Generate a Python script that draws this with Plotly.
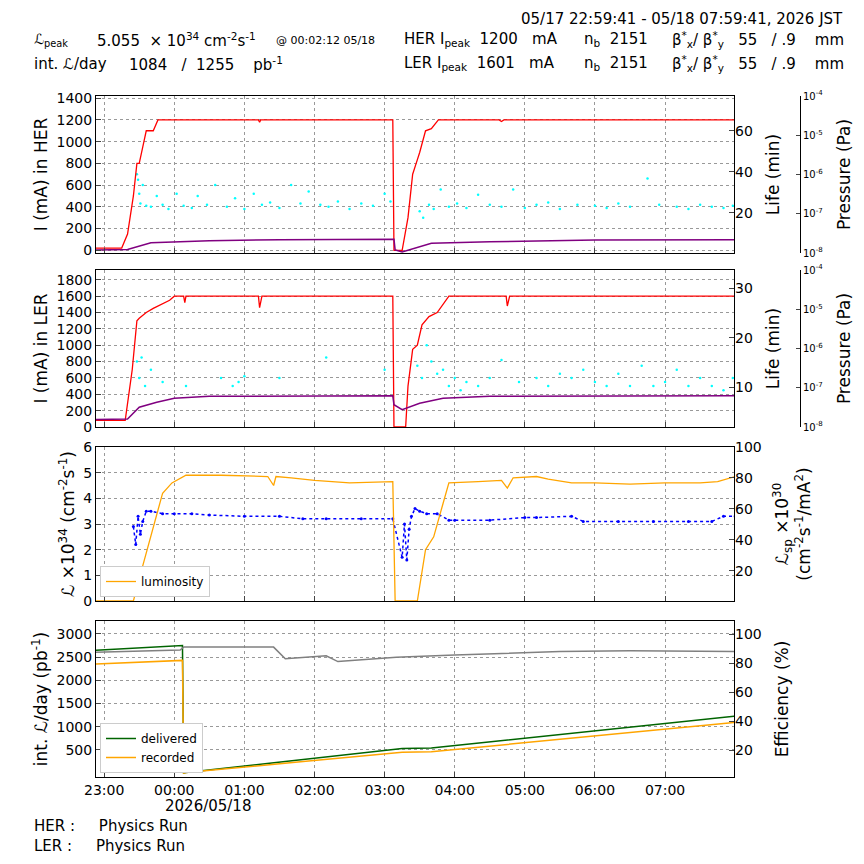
import plotly.graph_objects as go
from datetime import datetime, timedelta

# ---- data (times as HH:MM, 22-23h belong to 05/17) ----
def T(s):
    h, m = [int(v) for v in s.split(":")]
    d = datetime(2026, 5, 17) if h >= 22 else datetime(2026, 5, 18)
    return d + timedelta(hours=h, minutes=m)

her_t = ["22:53", "23:15", "23:20", "23:25", "23:28", "23:30", "23:34", "23:36", "23:42", "23:46", "01:12", "01:13",
         "01:14", "03:07", "03:08", "03:15", "03:20", "03:24", "03:27", "03:30", "03:35", "03:40", "03:46", "04:38",
         "04:40", "04:42", "08:00"]
her_i = [20, 20, 150, 500, 800, 800, 1000, 1100, 1100, 1200, 1200, 1180, 1200, 1200, 0, 0, 300, 700, 800, 900, 1100,
         1120, 1200, 1200, 1185, 1200, 1200]
her_life_t = ["22:53", "23:20", "23:40", "00:30", "01:30", "03:08", "03:09", "03:15", "03:40", "04:30", "06:00", "08:00"]
her_life = [2.0, 2.2, 5.5, 6.5, 7.0, 7.2, 2.0, 1.0, 5.2, 6.0, 6.8, 7.0]
her_cyan_t = ["23:28", "23:29", "23:30", "23:31", "23:33", "23:36", "23:40", "23:45", "23:50", "23:55", "00:02",
              "00:08", "00:15", "00:20", "00:28", "00:35", "00:45", "00:52", "01:00", "01:08", "01:15", "01:22",
              "01:30", "01:40", "01:48", "01:55", "02:05", "02:12", "02:20", "02:30", "02:40", "02:50", "03:00",
              "03:05", "03:30", "03:33", "03:38", "03:42", "03:48", "03:55", "04:02", "04:10", "04:20", "04:30",
              "04:40", "04:50", "05:00", "05:10", "05:20", "05:30", "05:45", "06:00", "06:10", "06:20", "06:30",
              "06:45", "06:55", "07:10", "07:20", "07:30", "07:40", "07:50", "07:58"]
her_cyan = [700, 650, 520, 430, 600, 410, 400, 500, 420, 380, 520, 410, 390, 500, 420, 600, 400, 480, 380, 520,
            420, 440, 390, 600, 430, 540, 420, 400, 450, 380, 430, 410, 520, 450, 360, 300, 420, 380, 560, 400,
            430, 390, 510, 420, 400, 560, 390, 420, 440, 380, 420, 410, 390, 430, 400, 660, 420, 400, 380, 420,
            400, 390, 410]

ler_t = ["22:53", "23:18", "23:24", "23:28", "23:30", "23:36", "23:42", "23:56", "00:00", "00:08", "00:09", "00:10",
         "01:12", "01:13", "01:15", "03:07", "03:08", "03:18", "03:20", "03:24", "03:28", "03:32", "03:38", "03:45",
         "03:55", "04:44", "04:45", "04:47", "08:00"]
ler_i = [80, 80, 700, 1300, 1330, 1400, 1450, 1550, 1600, 1600, 1520, 1600, 1600, 1460, 1600, 1600, 0, 0, 500, 950,
         1000, 1250, 1350, 1400, 1600, 1600, 1480, 1600, 1600]
ler_life_t = ["22:53", "23:20", "23:30", "23:45", "00:00", "00:30", "03:07", "03:08", "03:15", "03:30", "03:50",
              "04:30", "08:00"]
ler_life = [3.5, 3.6, 6.0, 7.0, 7.8, 8.2, 8.3, 6.5, 5.5, 6.8, 7.8, 8.2, 8.3]
ler_cyan_t = ["23:28", "23:30", "23:32", "23:35", "23:40", "23:50", "00:10", "00:40", "00:50", "00:55", "01:00",
              "01:30", "02:10", "03:00", "03:28", "03:32", "03:36", "03:40", "03:45", "03:50", "03:55", "04:00",
              "04:05", "04:10", "04:20", "04:30", "04:40", "04:55", "05:10", "05:20", "05:30", "05:40", "05:50",
              "06:00", "06:10", "06:20", "06:30", "06:40", "06:50", "07:00", "07:10", "07:20", "07:30", "07:40",
              "07:50", "07:58"]
ler_cyan = [800, 600, 850, 500, 700, 550, 500, 600, 500, 550, 620, 600, 850, 700, 750, 600, 1000, 800, 650, 700,
            500, 600, 450, 550, 500, 600, 820, 550, 600, 500, 650, 600, 700, 550, 500, 650, 500, 750, 500, 550,
            700, 500, 600, 500, 450, 600]

lum_t = ["22:53", "23:25", "23:32", "23:40", "23:50", "23:58", "00:10", "00:40", "01:20", "01:25", "01:27",
         "01:40", "02:00", "02:30", "03:07", "03:09", "03:28", "03:35", "03:42", "03:50", "03:55", "04:20", "04:40",
         "04:45", "04:50", "05:10", "05:20", "05:40", "06:00", "06:30", "07:00", "07:30", "07:45", "08:00"]
lum = [0, 0, 1.2, 2.5, 4.2, 4.6, 4.9, 4.9, 4.85, 4.5, 4.85, 4.8, 4.7, 4.6, 4.65, 0, 0, 2.0, 2.5, 3.8, 4.6, 4.65,
       4.7, 4.4, 4.8, 4.85, 4.75, 4.6, 4.6, 4.55, 4.6, 4.6, 4.65, 4.85]
lsp_t = ["23:25", "23:27", "23:29", "23:31", "23:33", "23:36", "23:40", "23:50", "00:00", "00:15", "00:30", "01:00",
         "01:30", "01:50", "02:10", "02:40", "03:07", "03:15", "03:17", "03:19", "03:21", "03:23", "03:26", "03:30",
         "03:36", "03:45", "03:55", "04:00", "04:30", "05:00", "05:10", "05:40", "05:50", "06:20", "06:50", "07:20",
         "07:40", "07:50", "08:00"]
lsp = [2.9, 2.2, 3.3, 2.6, 3.1, 3.5, 3.5, 3.4, 3.4, 3.4, 3.35, 3.3, 3.3, 3.2, 3.2, 3.2, 3.2, 1.7, 3.0, 1.6, 2.8,
       3.3, 3.6, 3.5, 3.4, 3.4, 3.15, 3.15, 3.15, 3.25, 3.25, 3.3, 3.1, 3.1, 3.1, 3.1, 3.1, 3.3, 3.3]

int_t = ["22:53", "00:07", "00:08", "00:10", "03:15", "03:40", "08:00"]
delivered = [2650, 2750, 0, 10, 530, 540, 1230]
recorded = [2350, 2430, 0, 10, 450, 460, 1090]
eff_t = ["22:53", "00:05", "00:08", "01:25", "01:35", "02:10", "02:20", "03:10", "04:00", "05:30", "06:30", "06:40",
         "07:00", "08:00"]
eff = [87.5, 89, 91, 91, 83, 85, 81, 84, 85.5, 88, 88.5, 88.5, 88, 88]

tx = lambda lst: [T(s) for s in lst]
xr = [T("22:53"), T("07:59")]

# page has an 8px body margin, so the figure is 848 wide and placed at (8, 8)
W = 848
PX = lambda x: (x - 8) / W
PY = lambda y: 1 - (y - 8) / W

fig = go.Figure()
fig.add_trace(go.Scatter(x=tx(her_cyan_t), y=her_cyan, mode="markers", marker=dict(color="cyan", size=2.5),
                         xaxis="x", yaxis="y", showlegend=False))
fig.add_trace(go.Scatter(x=tx(her_t), y=her_i, mode="lines", line=dict(color="red", width=1.3), xaxis="x",
                         yaxis="y", showlegend=False))
fig.add_trace(go.Scatter(x=tx(her_life_t), y=her_life, mode="lines", line=dict(color="purple", width=1.5),
                         xaxis="x", yaxis="y5", showlegend=False))
fig.add_trace(go.Scatter(x=tx(ler_cyan_t), y=ler_cyan, mode="markers", marker=dict(color="cyan", size=2.5),
                         xaxis="x2", yaxis="y2", showlegend=False))
fig.add_trace(go.Scatter(x=tx(ler_t), y=ler_i, mode="lines", line=dict(color="red", width=1.3), xaxis="x2",
                         yaxis="y2", showlegend=False))
fig.add_trace(go.Scatter(x=tx(ler_life_t), y=ler_life, mode="lines", line=dict(color="purple", width=1.5),
                         xaxis="x2", yaxis="y6", showlegend=False))
fig.add_trace(go.Scatter(x=tx(lsp_t), y=lsp, mode="lines+markers", line=dict(color="blue", width=1.5, dash="dot"),
                         marker=dict(color="blue", size=3), xaxis="x3", yaxis="y3", showlegend=False))
fig.add_trace(go.Scatter(x=tx(lum_t), y=lum, mode="lines", line=dict(color="orange", width=1.3), name="luminosity",
                         xaxis="x3", yaxis="y3", legend="legend"))
fig.add_trace(go.Scatter(x=tx(eff_t), y=eff, mode="lines", line=dict(color="gray", width=1.5), xaxis="x4",
                         yaxis="y8", showlegend=False))
fig.add_trace(go.Scatter(x=tx(int_t), y=delivered, mode="lines", line=dict(color="darkgreen", width=1.5),
                         name="delivered", xaxis="x4", yaxis="y4", legend="legend2"))
fig.add_trace(go.Scatter(x=tx(int_t), y=recorded, mode="lines", line=dict(color="orange", width=1.5),
                         name="recorded", xaxis="x4", yaxis="y4", legend="legend2"))

ax = dict(showline=True, linecolor="black", mirror=True, ticks="inside", showgrid=True, gridcolor="#999",
          griddash="dot", zeroline=False, tickfont=dict(size=14), automargin=False)
xd = [PX(96), PX(734)]
xa = dict(ax, domain=xd, range=xr, tickformat="%H:%M", dtick=3600000, showticklabels=False)
doms = [[PY(253), PY(96)], [PY(427), PY(270)], [PY(601), PY(447)], [PY(777), PY(621)]]
ra = dict(ticks="inside", tickfont=dict(size=14), side="right", showgrid=False, zeroline=False, automargin=False)
lay = dict(
    width=W, height=W, margin=dict(l=0, r=0, t=0, b=0), plot_bgcolor="white", paper_bgcolor="white",
    font=dict(family="DejaVu Sans", size=14, color="black"),
    xaxis=dict(xa, anchor="y"),
    xaxis2=dict(xa, anchor="y2", matches="x"),
    xaxis3=dict(xa, anchor="y3", matches="x"),
    xaxis4=dict(xa, anchor="y4", matches="x", showticklabels=True),
    yaxis=dict(ax, domain=doms[0], range=[-25, 1420], dtick=200, title=dict(text="I (mA) in HER", standoff=4)),
    yaxis2=dict(ax, domain=doms[1], range=[0, 1920], dtick=200, title=dict(text="I (mA) in LER", standoff=4)),
    yaxis3=dict(ax, domain=doms[2], range=[0, 6], dtick=1,
                title=dict(text="\u2112 \u00d710<sup>34</sup> (cm<sup>-2</sup>s<sup>-1</sup>)", standoff=4)),
    yaxis4=dict(ax, domain=doms[3], range=[-86, 3280], tickvals=[500, 1000, 1500, 2000, 2500, 3000],
                title=dict(text="int. \u2112/day (pb<sup>-1</sup>)", standoff=4)),
    yaxis5=dict(ra, overlaying="y", anchor="x", range=[0.5, 77], tickvals=[20, 40, 60], title="Life (min)"),
    yaxis6=dict(ra, overlaying="y2", anchor="x2", range=[2, 33.7], tickvals=[10, 20, 30], title="Life (min)"),
    yaxis7=dict(ra, overlaying="y3", anchor="x3", range=[0.4, 100], tickvals=[20, 40, 60, 80, 100],
                title="\u2112<sub>sp</sub> \u00d710<sup>30</sup><br>(cm<sup>-2</sup>s<sup>-1</sup>/mA<sup>2</sup>)"),
    yaxis8=dict(ra, overlaying="y4", anchor="x4", range=[1.4, 109], tickvals=[20, 40, 60, 80, 100],
                title="Efficiency (%)"),
    legend=dict(x=PX(100), y=PY(597), xanchor="left", yanchor="bottom", bordercolor="#ccc", borderwidth=1,
                font=dict(size=12), bgcolor="white"),
    legend2=dict(x=PX(100), y=PY(773), xanchor="left", yanchor="bottom", bordercolor="#ccc", borderwidth=1,
                 font=dict(size=12), bgcolor="white"),
)
# empty trace so the right axis of panel 3 is drawn
fig.add_trace(go.Scatter(x=[xr[0]], y=[None], xaxis="x3", yaxis="y7", showlegend=False))

# pressure axes (empty)
pv = [1e-8, 1e-7, 1e-6, 1e-5, 1e-4]
pt = ["10<sup>-8</sup>", "10<sup>-7</sup>", "10<sup>-6</sup>", "10<sup>-5</sup>", "10<sup>-4</sup>"]
for n, ov in [(9, "y"), (10, "y2")]:
    lay["yaxis%d" % n] = dict(type="log", range=[-8, -4], overlaying=ov, anchor="free", position=PX(800),
                             side="right", showline=True, linecolor="black", linewidth=1, ticks="inside", ticklen=4,
                             tickvals=pv, ticktext=pt, tickfont=dict(size=10), showgrid=False, zeroline=False,
                             title="Pressure (Pa)", automargin=False)
    fig.add_trace(go.Scatter(x=[xr[0]], y=[None], xaxis="x" if n == 9 else "x2", yaxis="y%d" % n, showlegend=False))
fig.update_layout(**lay)

beta = "\u03b2<sup>*</sup><sub>x</sub>/ \u03b2<sup>*</sup><sub>y</sub>   55   / .9    mm"
anns = [
    (845, 19, "05/17 22:59:41 - 05/18 07:59:41, 2026 JST", "right", 15),
    (32, 40, "\u2112<sub>peak</sub>", "left", 14),
    (95, 40, "5.055  \u00d7 10<sup>34</sup> cm<sup>-2</sup>s<sup>-1</sup>", "left", 15),
    (274, 41, "@ 00:02:12 05/18", "left", 11),
    (402, 40, "HER I<sub>peak</sub>  1200   mA", "left", 15),
    (582, 40, "n<sub>b</sub>  2151", "left", 15),
    (670, 40, beta, "left", 15),
    (32, 64, "int. \u2112/day", "left", 15),
    (127, 64, "1084   /  1255    pb<sup>-1</sup>", "left", 15),
    (402, 64, "LER I<sub>peak</sub>  1601   mA", "left", 15),
    (582, 64, "n<sub>b</sub>  2151", "left", 15),
    (670, 64, beta, "left", 15),
    (208, 806, "2026/05/18", "center", 15),
    (32, 826, "HER :     Physics Run", "left", 15),
    (32, 846, "LER :     Physics Run", "left", 15),
]
for x, y, t, al, s in anns:
    fig.add_annotation(x=PX(x), y=PY(y), xref="paper", yref="paper", text=t, showarrow=False, xanchor=al,
                       yanchor="middle", font=dict(size=s))

fig.write_html("out.html")
